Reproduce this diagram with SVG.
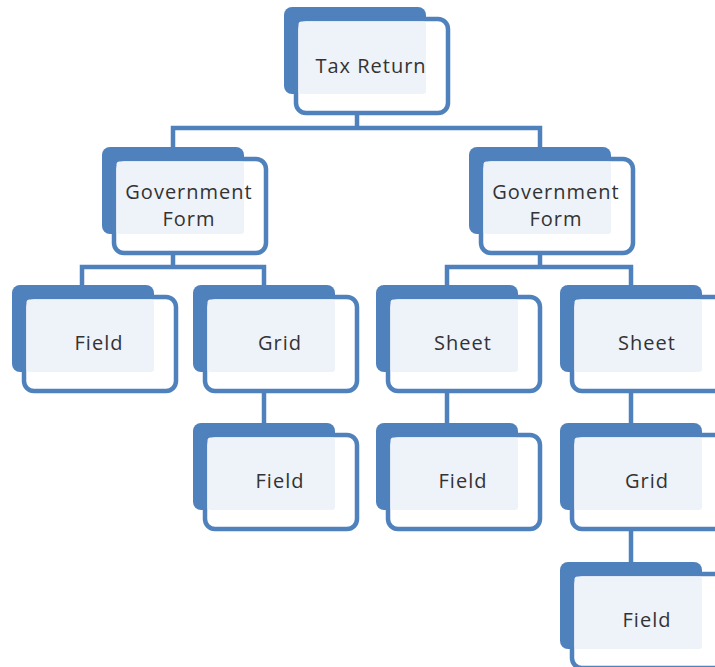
<svg xmlns="http://www.w3.org/2000/svg" width="715" height="667" viewBox="0 0 715 667">
<defs>
<style>
.back{fill:#4f81bd}
.front{fill:#ffffff;stroke:#4f81bd;stroke-width:4.5}
.inner{fill:#eef2f9}
.lbl{font-family:"Open Sans","Liberation Sans",sans-serif;font-size:20px;letter-spacing:1px;fill:#333333;text-anchor:middle}
.conn{fill:none;stroke:#4f81bd;stroke-width:4.5;stroke-linejoin:miter}
</style>
<g id="box">
<rect class="back" x="0" y="0" width="142" height="87" rx="8"/>
<rect class="front" x="12" y="12" width="152" height="94" rx="10"/>
<rect class="inner" x="14.5" y="14.5" width="127.5" height="72.5" rx="3"/>
</g>
</defs>
<rect width="715" height="667" fill="#ffffff"/>
<g id="connectors">
<path class="conn" d="M357 115 V128 M173 147 V128 H540 V147"/>
<path class="conn" d="M173 255 V267 M82 285 V267 H264 V285"/>
<path class="conn" d="M540 255 V267 M447 285 V267 H631 V285"/>
<path class="conn" d="M264 393 V423"/>
<path class="conn" d="M447 393 V423"/>
<path class="conn" d="M631 393 V423"/>
<path class="conn" d="M631 531 V562"/>
</g>
<g id="tax-return" transform="translate(284,7)"><use href="#box"/><text class="lbl" x="87" y="66">Tax Return</text></g>
<g id="gov-form-left" transform="translate(102,147)"><use href="#box"/><text class="lbl" x="87" y="52">Government</text><text class="lbl" x="87" y="79">Form</text></g>
<g id="gov-form-right" transform="translate(469,147)"><use href="#box"/><text class="lbl" x="87" y="52">Government</text><text class="lbl" x="87" y="79">Form</text></g>
<g id="field-1" transform="translate(12,285)"><use href="#box"/><text class="lbl" x="87" y="65">Field</text></g>
<g id="grid-1" transform="translate(193,285)"><use href="#box"/><text class="lbl" x="87" y="65">Grid</text></g>
<g id="sheet-1" transform="translate(376,285)"><use href="#box"/><text class="lbl" x="87" y="65">Sheet</text></g>
<g id="sheet-2" transform="translate(560,285)"><use href="#box"/><text class="lbl" x="87" y="65">Sheet</text></g>
<g id="field-2" transform="translate(193,423)"><use href="#box"/><text class="lbl" x="87" y="65">Field</text></g>
<g id="field-3" transform="translate(376,423)"><use href="#box"/><text class="lbl" x="87" y="65">Field</text></g>
<g id="grid-2" transform="translate(560,423)"><use href="#box"/><text class="lbl" x="87" y="65">Grid</text></g>
<g id="field-4" transform="translate(560,562)"><use href="#box"/><text class="lbl" x="87" y="65">Field</text></g>
</svg>
